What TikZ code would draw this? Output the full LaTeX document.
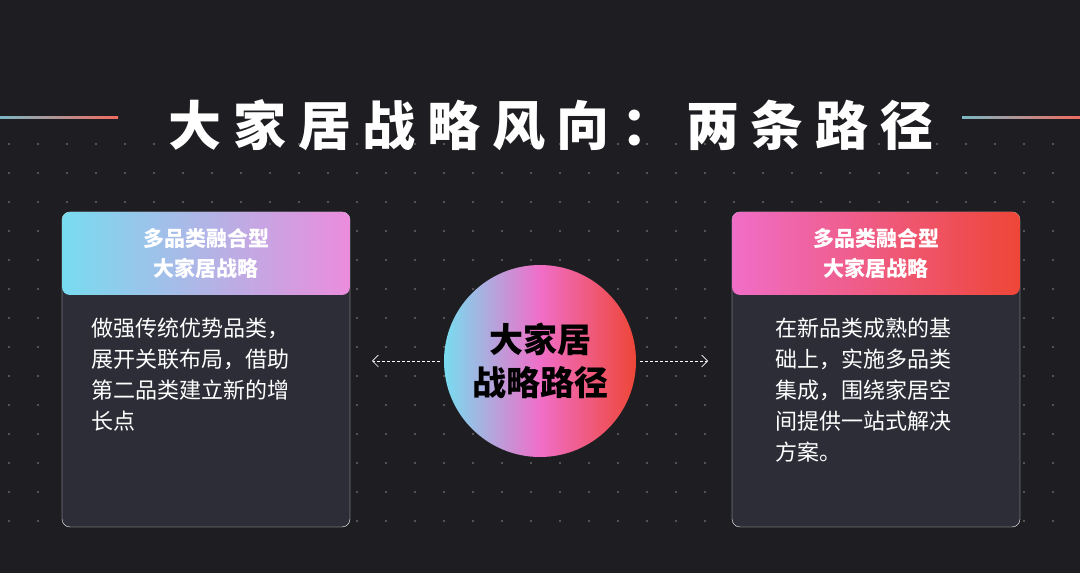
\documentclass[tikz,border=0pt]{standalone}
\usepackage{fontspec}
\newfontfamily\cjk{Noto Sans CJK SC}
\newfontfamily\cjkwide{Noto Sans CJK SC}[LetterSpace=22]
\usetikzlibrary{positioning,arrows.meta}
\definecolor{bgdark}{RGB}{30,30,34}
\definecolor{carddark}{RGB}{44,45,54}
\definecolor{cyanish}{RGB}{120,220,240}
\definecolor{pinkish}{RGB}{235,140,220}
\definecolor{hotpink}{RGB}{240,110,200}
\definecolor{redish}{RGB}{238,70,55}
\begin{document}
\begin{tikzpicture}
  [x=1pt,y=1pt,
   card/.style={rectangle,rounded corners=8pt,fill=carddark,draw=white!25,
                minimum width=288pt,minimum height=315pt,outer sep=0},
   cardtext/.style={text=white,font=\cjk\fontsize{22}{31}\selectfont,align=left},
   headtext/.style={text=white,font=\cjk\bfseries\fontsize{21}{30}\selectfont,align=center},
   pointer/.style={white,densely dashed,line width=0.6pt,-{Straight Barb[length=6pt,width=12pt]}}]
  \fill[bgdark] (0,0) rectangle (1080,573);
  \useasboundingbox (0,0) rectangle (1080,573);
  % dot grid
  \foreach \i in {0,...,37} {
    \foreach \j in {0,...,13} {
      \fill[white!35] (\i*29+9,\j*29+52) circle (0.7pt);
    }
  }
  % title
  \node[text=white,font=\cjkwide\bfseries\fontsize{53}{58}\selectfont] (title) at (551,448) {大家居战略风向：两条路径};
  \shade[left color=cyanish!60!gray,right color=redish!80] (0,454) rectangle (118,456);
  \shade[left color=cyanish!60!gray,right color=redish!80] (962,454) rectangle (1080,456);
  % left card
  \node[card] (lcard) at (206,203.5) {};
  \begin{scope}
    \clip[rounded corners=8pt] (62,278) rectangle (350,361);
    \shade[left color=cyanish,right color=pinkish] (62,278) rectangle (350,361);
  \end{scope}
  \node[headtext] (lhead) at (206,319.5) {多品类融合型\\大家居战略};
  \node[cardtext,anchor=north west] (lbody) at (88,259) {做强传统优势品类，\\展开关联布局，借助\\第二品类建立新的增\\长点};
  % right card
  \node[card] (rcard) at (876,203.5) {};
  \begin{scope}
    \clip[rounded corners=8pt] (732,278) rectangle (1020,361);
    \shade[left color=hotpink,right color=redish] (732,278) rectangle (1020,361);
  \end{scope}
  \node[headtext] (rhead) at (876,319.5) {多品类融合型\\大家居战略};
  \node[cardtext,anchor=north west] (rbody) at (772,259) {在新品类成熟的基\\础上，实施多品类\\集成，围绕家居空\\间提供一站式解决\\方案。};
  % centre
  \shade[shading angle=80,left color=cyanish,right color=redish,middle color=hotpink] (540,212) circle (96);
  \node[circle,minimum size=192pt,inner sep=0] (hub) at (540,212) {};
  \node[text=black,font=\cjk\bfseries\fontsize{34}{43}\selectfont,align=center] (hubtext) at (540,212) {大家居\\战略路径};
  \coordinate (lend) at (372,212);
  \coordinate (rend) at (708,212);
  \draw[pointer] ([xshift=-4pt]hub.west) -- (lend);
  \draw[pointer] ([xshift=4pt]hub.east) -- (rend);
\end{tikzpicture}
\end{document}
